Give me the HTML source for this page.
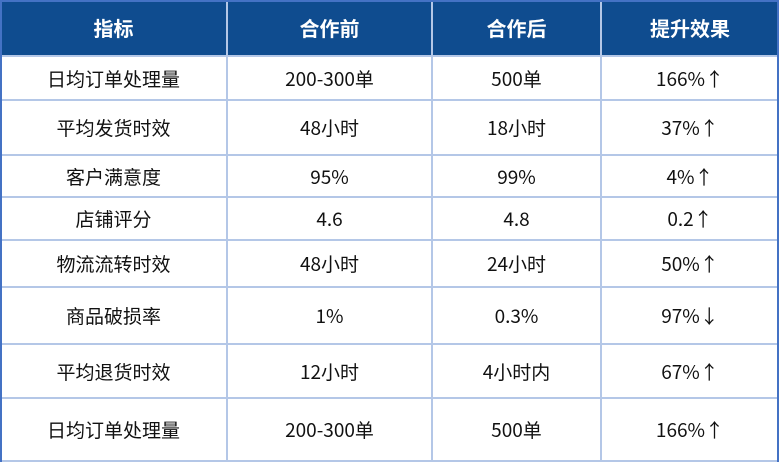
<!DOCTYPE html><html><head><meta charset="utf-8"><style>
body{margin:0;width:779px;height:462px;background:#fff;overflow:hidden;font-family:"Noto Sans CJK SC",sans-serif}
.hd{position:absolute;left:0;top:0;width:779px;height:56px;background:#0F4C8F}
.top{position:absolute;left:0;top:0;width:779px;height:2px;background:#4472C4}
.lb{position:absolute;top:0;width:2px;height:462px;background:#4472C4}
.v{position:absolute;top:0;width:2px;height:462px;background:#B4C7E7}
.h{position:absolute;left:0;width:779px;height:2px;background:#B4C7E7}
.c{position:absolute;text-align:center;font-size:19px;line-height:1;color:#111;display:flex;align-items:center;justify-content:center}
.c.th{color:#fff;font-weight:bold;font-size:20px}
</style></head><body>
<div class="hd"></div>
<div id="g"></div>
<script>
var cols=[0,227,432,601,779];
var rows=[0,56,100,155,197,240,287,344,398,461];
var data=[["指标","合作前","合作后","提升效果"],
["日均订单处理量","200-300单","500单","166%↑"],
["平均发货时效","48小时","18小时","37%↑"],
["客户满意度","95%","99%","4%↑"],
["店铺评分","4.6","4.8","0.2↑"],
["物流流转时效","48小时","24小时","50%↑"],
["商品破损率","1%","0.3%","97%↓"],
["平均退货时效","12小时","4小时内","67%↑"],
["日均订单处理量","200-300单","500单","166%↑"]];
var h="";
for(var r=0;r<9;r++)for(var c=0;c<4;c++){
h+='<div class="c'+(r==0?' th':'')+'" style="left:'+cols[c]+'px;width:'+(cols[c+1]-cols[c])+'px;top:'+rows[r]+'px;height:'+(rows[r+1]-rows[r])+'px">'+data[r][c]+'</div>';}
for(var i=1;i<rows.length;i++)h+='<div class="h" style="top:'+(rows[i]-1)+'px"></div>';
for(var i=1;i<4;i++)h+='<div class="v" style="left:'+(cols[i]-1)+'px"></div>';
h+='<div class="top"></div><div class="lb" style="left:0"></div><div class="lb" style="left:777px"></div>';
document.getElementById("g").innerHTML=h;
</script>
</body></html>
